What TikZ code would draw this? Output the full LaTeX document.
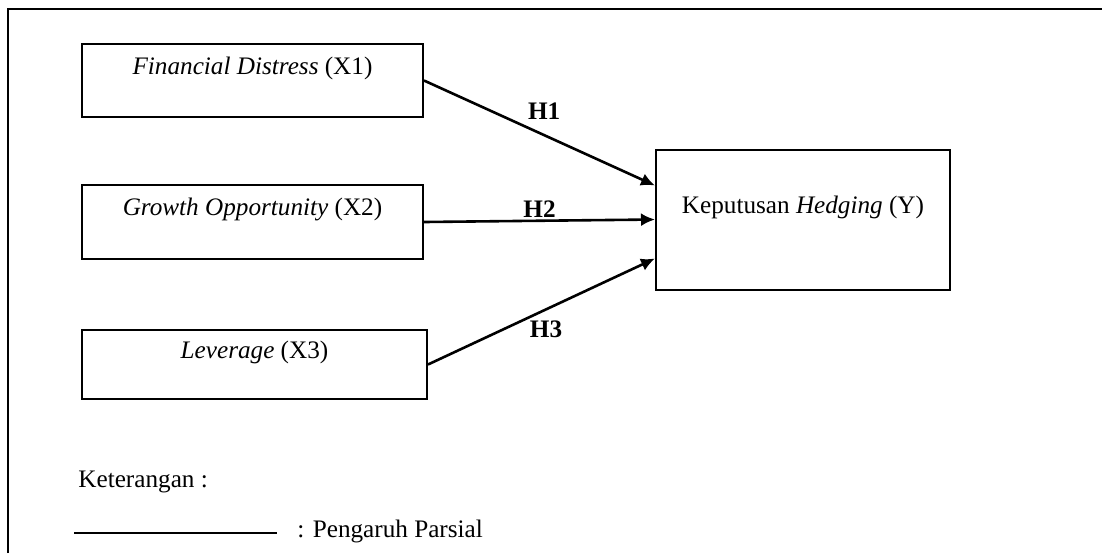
\documentclass[tikz,border=0pt]{standalone}
\usepackage{fontspec}
\setmainfont{Liberation Serif}
\usepackage{tikz}
\usetikzlibrary{positioning,arrows.meta}

\begin{document}
\begin{tikzpicture}[
    x=0.5pt, y=-0.5pt,
    font=\fontsize{12.6}{15}\selectfont,
    box/.style={rectangle, draw, line width=1pt, align=center, inner sep=0pt},
    arrow/.style={-{Latex[length=7pt,width=6.5pt]}, line width=1.3pt},
    hyp/.style={font=\fontsize{12.6}{15}\selectfont\bfseries, inner sep=0pt}
]
    \useasboundingbox (0,0) rectangle (1102,553);
    \draw[line width=1pt] (8,553) -- (8,9) -- (1102,9);

    \node[box, minimum width=170.5pt, minimum height=36.5pt] (x1) at (252.5,80.5) {\textit{Financial Distress} (X1)\\~};
    \node[box, minimum width=170.5pt, minimum height=37pt] (x2) at (252.5,222) {\textit{Growth Opportunity} (X2)\\~};
    \node[box, minimum width=172.5pt, minimum height=34.5pt] (x3) at (254.5,364.5) {\textit{Leverage} (X3)\\~};
    \node[box, minimum width=147pt, minimum height=70pt] (y) at (803,219.5) {Keputusan \textit{Hedging} (Y)\\~};

    \draw[arrow] (x1.east) -- ([yshift=17pt]y.west) node[hyp, pos=0.52, above=7pt] {H1};
    \draw[arrow] (x2.east) -- (y.west) node[hyp, pos=0.5, above=1pt] {H2};
    \draw[arrow] (x3.east) -- ([yshift=-19.5pt]y.west) node[hyp, pos=0.52, below=5pt] {H3};

    % keterangan
    \node[anchor=west, inner sep=0pt] (ket) at (78,482) {Keterangan :};
    \coordinate (lgA) at (74,533);
    \coordinate (lgB) at (277,533);
    \draw[line width=1.4pt] (lgA) -- (lgB);
    \node[anchor=west, inner sep=0pt] (parsial) at (297,531) {: Pengaruh Parsial};
\end{tikzpicture}
\end{document}
